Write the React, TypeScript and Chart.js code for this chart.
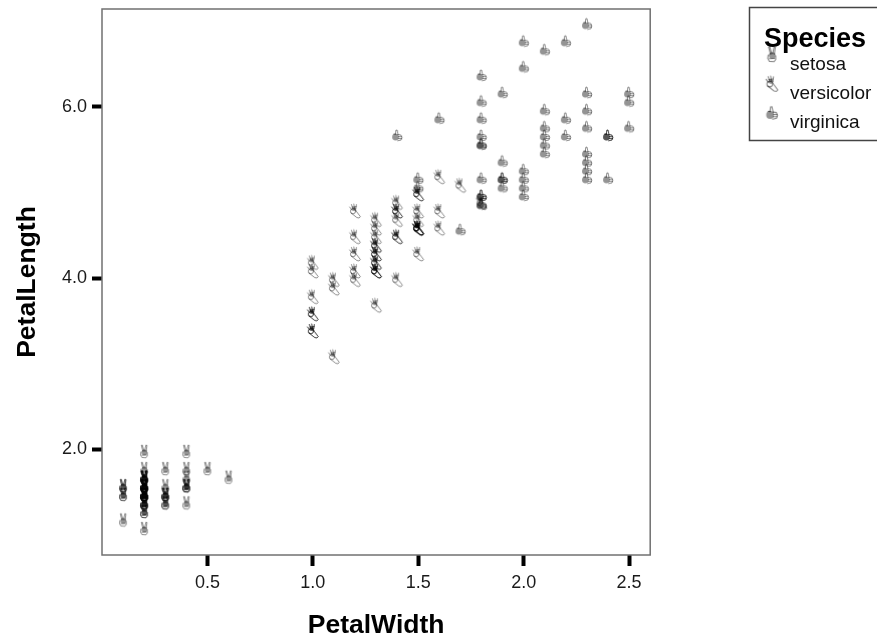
import React, { useEffect, useRef } from "react";
import { Chart, registerables } from "chart.js";

Chart.register(...registerables);

const speciesNames = ["setosa", "versicolor", "virginica"];
const xTickValues = [0.5, 1.0, 1.5, 2.0, 2.5];
const yTickValues = [2.0, 4.0, 6.0];

const setosaWidth = [.2,.2,.2,.2,.2,.4,.3,.2,.2,.1,.2,.2,.1,.1,.2,.4,.4,.3,.3,.3,.2,.4,.2,.5,.2,.2,.4,.2,.2,.2,.2,.4,.1,.2,.2,.2,.2,.1,.2,.2,.3,.3,.2,.6,.4,.3,.2,.2,.2,.2];
const setosaLength = [1.4,1.4,1.3,1.5,1.4,1.7,1.4,1.5,1.4,1.5,1.5,1.6,1.4,1.1,1.2,1.5,1.3,1.4,1.7,1.5,1.7,1.5,1.0,1.7,1.9,1.6,1.6,1.5,1.4,1.6,1.6,1.5,1.5,1.4,1.5,1.2,1.3,1.4,1.3,1.5,1.3,1.3,1.3,1.6,1.9,1.4,1.6,1.4,1.5,1.4];
const versicolorWidth = [1.4,1.5,1.5,1.3,1.5,1.3,1.6,1.0,1.3,1.4,1.0,1.5,1.0,1.4,1.3,1.4,1.5,1.0,1.5,1.1,1.8,1.3,1.5,1.2,1.3,1.4,1.4,1.7,1.5,1.0,1.1,1.0,1.2,1.6,1.5,1.6,1.5,1.3,1.3,1.3,1.2,1.4,1.2,1.0,1.3,1.2,1.3,1.3,1.1,1.3];
const versicolorLength = [4.7,4.5,4.9,4.0,4.6,4.5,4.7,3.3,4.6,3.9,3.5,4.2,4.0,4.7,3.6,4.4,4.5,4.1,4.5,3.9,4.8,4.0,4.9,4.7,4.3,4.4,4.8,5.0,4.5,3.5,3.8,3.7,3.9,5.1,4.5,4.5,4.7,4.4,4.1,4.0,4.4,4.6,4.0,3.3,4.2,4.2,4.2,4.3,3.0,4.1];
const virginicaWidth = [2.5,1.9,2.1,1.8,2.2,2.1,1.7,1.8,1.8,2.5,2.0,1.9,2.1,2.0,2.4,2.3,1.8,2.2,2.3,1.5,2.3,2.0,2.0,1.8,2.1,1.8,1.8,1.8,2.1,1.6,1.9,2.0,2.2,1.5,1.4,2.3,2.4,1.8,1.8,2.1,2.4,2.3,1.9,2.3,2.5,2.3,1.9,2.0,2.3,1.8];
const virginicaLength = [6.0,5.1,5.9,5.6,5.8,6.6,4.5,6.3,5.8,6.1,5.1,5.3,5.5,5.0,5.1,5.3,5.5,6.7,6.9,5.0,5.7,4.9,6.7,4.9,5.7,6.0,4.8,4.9,5.6,5.8,6.1,6.4,5.6,5.1,5.6,6.1,5.6,5.5,4.8,5.4,5.6,5.1,5.1,5.9,5.7,5.2,5.0,5.2,5.4,5.1];

const ink = "rgba(0,0,0,0.48)";
const blob = "rgba(0,0,0,0.42)";
const FONT = "Liberation Sans";

function makeIcon(draw: (c: CanvasRenderingContext2D) => void, dx = 0, dy = 0, scale = 1) {
  const cv = document.createElement("canvas");
  cv.width = 28;
  cv.height = 44;
  const c = cv.getContext("2d")!;
  c.translate(14 + dx, 22 + dy);
  c.scale(scale, scale);
  c.strokeStyle = ink;
  c.fillStyle = blob;
  c.lineWidth = 0.95;
  c.lineCap = "round";
  draw(c);
  return cv;
}

function line(c: CanvasRenderingContext2D, pts: number[][]) {
  c.beginPath();
  pts.forEach((p, i) => (i ? c.lineTo(p[0], p[1]) : c.moveTo(p[0], p[1])));
  c.stroke();
}

function peaceHand(c: CanvasRenderingContext2D) {
  line(c, [[-1.2, -6.5], [-2.8, -12.6], [-1.8, -12.9], [-0.2, -7]]);
  line(c, [[0.6, -7], [1.8, -12.9], [2.9, -12.5], [2, -6.5]]);
  c.beginPath();
  c.arc(0.2, -5.6, 2.8, 0, Math.PI * 2);
  c.fill();
  line(c, [[-3.2, -6], [-3.6, -3], [-2.2, -0.5], [1.8, -0.2], [3.2, -2], [3.2, -5.4]]);
  line(c, [[-2.2, -2.8], [2.2, -3]]);
}

function okHand(c: CanvasRenderingContext2D) {
  line(c, [[-1.8, -9], [-3.6, -13.5]]);
  line(c, [[-0.4, -9], [-1.2, -14]]);
  line(c, [[0.8, -9], [1.4, -13.4]]);
  line(c, [[-3, -8], [-5.4, -11]]);
  line(c, [[-3, -11], [1, -11.4]]);
  c.beginPath();
  c.arc(-2, -6.8, 2.6, 0, Math.PI * 2);
  c.stroke();
  c.beginPath();
  c.arc(-1, -9, 2.1, 0, Math.PI * 2);
  c.fill();
  line(c, [[-3.9, -5], [1.8, -0.5], [4, 0], [5.3, -1.4], [1.6, -6.4], [0.6, -8]]);
}

function thumbHand(c: CanvasRenderingContext2D) {
  line(c, [[-1.8, -6.6], [-1.2, -10.8], [0, -11], [1, -6.4]]);
  c.beginPath();
  c.arc(-1.6, -3.9, 3.4, 0, Math.PI * 2);
  c.fill();
  line(c, [[1, -6.4], [3.8, -6], [4.8, -3.6], [4, -1], [0.6, -0.2]]);
  line(c, [[1.4, -4.4], [4.4, -4.2]]);
  line(c, [[1.2, -2.4], [4.4, -2.4]]);
  line(c, [[-3.4, -6.9], [-1.4, -7.1]]);
}

const framePlugin = {
  id: "frame",
  afterLayout(chart: any) {
    const l = chart.legend;
    if (l) {
      l.left = 749;
      l.right = 881;
      l.top = 7;
      l.bottom = 300;
      l.width = 132;
      l.height = 293;
    }
  },
  afterDatasetsDraw(chart: any) {
    const { ctx, chartArea: a } = chart;
    ctx.save();
    ctx.strokeStyle = "#707070";
    ctx.lineWidth = 1.5;
    ctx.strokeRect(a.left, a.top, a.right - a.left, a.bottom - a.top);
    ctx.strokeStyle = "#444444";
    ctx.strokeRect(749.5, 7.5, 140, 133);
    ctx.restore();
  },
};

export default function App() {
  const ref = useRef<HTMLCanvasElement>(null);
  useEffect(() => {
    document.body.style.margin = "0";
    const icons = [makeIcon(peaceHand), makeIcon(okHand), makeIcon(thumbHand)];
    const legendIcons = [
      makeIcon(peaceHand, 2.2, -3, 1.17),
      makeIcon(okHand, 2.2, -2.5, 1.1),
      makeIcon(thumbHand, 2.2, -3.5, 1.15),
    ];
    const toPts = (xs: number[], ys: number[]) => xs.map((x, i) => ({ x, y: ys[i] }));
    const sets = [
      toPts(setosaWidth, setosaLength),
      toPts(versicolorWidth, versicolorLength),
      toPts(virginicaWidth, virginicaLength),
    ];
    const chart = new Chart(ref.current!, {
      type: "scatter",
      data: {
        datasets: speciesNames.map((name, i) => ({
          label: name,
          data: sets[i],
          pointStyle: icons[i],
          pointRadius: 8,
        })),
      },
      plugins: [framePlugin],
      options: {
        responsive: false,
        animation: false,
        layout: { padding: { top: 5, right: 94.5, bottom: 0, left: 0 } },
        scales: {
          x: {
            type: "linear",
            min: 0,
            max: 2.6,
            afterBuildTicks: (s: any) => { s.ticks = xTickValues.map((value) => ({ value })); },
            afterFit: (s: any) => { s.height = 83; s.paddingLeft = 0; s.paddingRight = 0; },
            grid: { drawOnChartArea: false, drawTicks: true, tickLength: 11, tickWidth: 4, tickColor: "#000" },
            border: { display: false },
            ticks: {
              color: "#1a1a1a",
              font: { family: FONT, size: 18 },
              padding: 6,
              maxRotation: 0,
              callback: (v: any) => Number(v).toFixed(1),
            },
            title: {
              display: true,
              text: "PetalWidth",
              color: "#000",
              font: { family: FONT, size: 26.5, weight: "bold", lineHeight: 1 },
              padding: { top: 0, bottom: -1 },
            },
          },
          y: {
            type: "linear",
            min: 0.767,
            max: 7.14,
            afterBuildTicks: (s: any) => { s.ticks = yTickValues.map((value) => ({ value })); },
            afterFit: (s: any) => { s.width = 102; s.paddingTop = 0; s.paddingBottom = 0; },
            grid: { drawOnChartArea: false, drawTicks: true, tickLength: 10, tickWidth: 4, tickColor: "#000" },
            border: { display: false },
            ticks: {
              color: "#1a1a1a",
              font: { family: FONT, size: 18 },
              padding: 5,
              callback: (v: any) => Number(v).toFixed(1),
            },
            title: {
              display: true,
              text: "PetalLength",
              color: "#000",
              font: { family: FONT, size: 26.5, weight: "bold", lineHeight: 1 },
              padding: { top: 14, bottom: 0 },
            },
          },
        },
        plugins: {
          tooltip: { enabled: false },
          legend: {
            display: true,
            position: "right",
            align: "start",
            title: {
              display: true,
              text: "Species",
              color: "#000",
              font: { family: FONT, size: 27, weight: "bold" },
              padding: { top: 19, bottom: -13, left: 0, right: 0 },
            },
            labels: {
              usePointStyle: true,
              pointStyleWidth: 21.5,
              color: "#000",
              padding: 10,
              font: { family: FONT, size: 19 },
              generateLabels: () =>
                speciesNames.map((text, i) => ({
                  text,
                  fontColor: "#111",
                  fillStyle: "#000",
                  strokeStyle: "#000",
                  lineWidth: 0,
                  hidden: false,
                  pointStyle: legendIcons[i],
                  datasetIndex: i,
                })),
            },
          },
        },
      },
    } as any);
    return () => chart.destroy();
  }, []);
  return (
    <div style={{ width: 877, height: 638, overflow: "hidden", position: "relative" }}>
      <canvas ref={ref} width={877} height={638} style={{ display: "block" }} />
    </div>
  );
}
